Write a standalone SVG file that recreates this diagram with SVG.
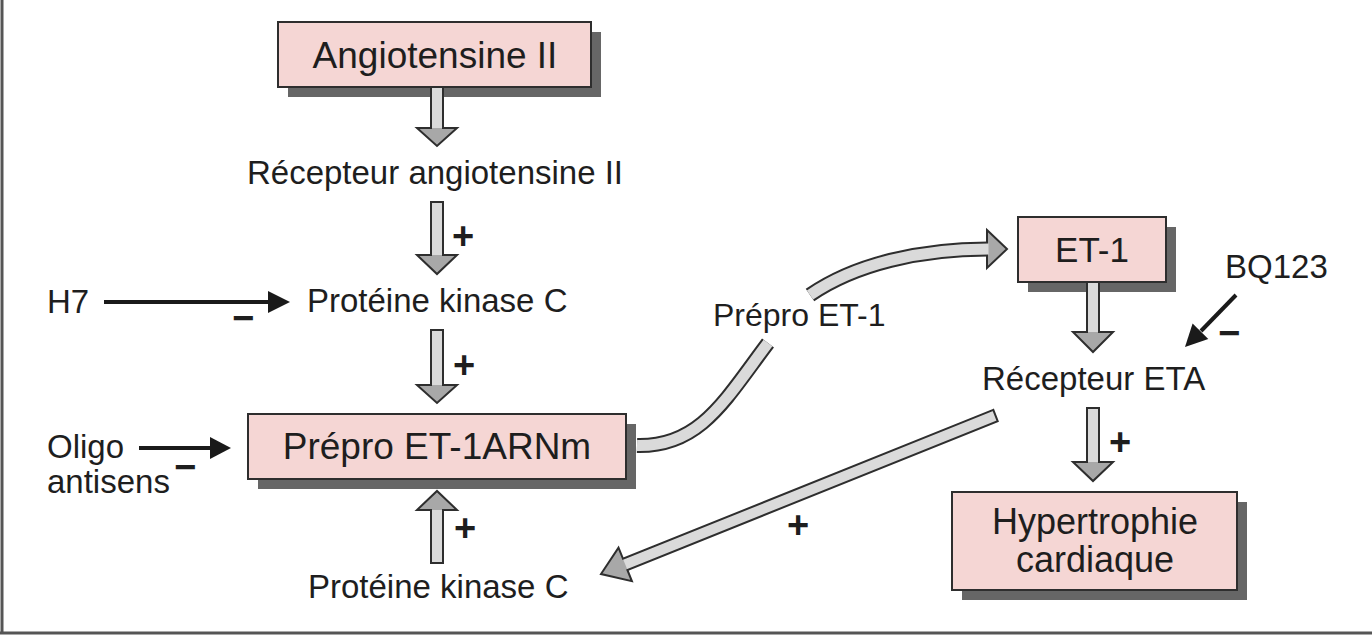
<svg xmlns="http://www.w3.org/2000/svg" width="1372" height="636" viewBox="0 0 1372 636">
<style>
text{font-family:"Liberation Sans",Arial,sans-serif;fill:#1e1e1e}
.t32{font-size:33px}
.t37{font-size:37px}
.c{text-anchor:middle}
.sign{font-size:38px;font-weight:bold;text-anchor:middle}
.box{fill:#f5d6d4;stroke:#2e2e2e;stroke-width:2}
.shadow{fill:#666666}
.afill{fill:#dadada;stroke:none}
.hfill{fill:#a8a8a8;stroke:none}
.aout{fill:none;stroke:#2e2e2e;stroke-width:2;stroke-linejoin:miter}
.black{stroke:#1a1a1a;stroke-width:4;fill:none}
.bhead{fill:#1a1a1a}
.tubeO{fill:none;stroke:#2e2e2e;stroke-width:15}
.tubeI{fill:none;stroke:#dadada;stroke-width:11}
</style>
<rect x="0" y="0" width="1372" height="636" fill="#ffffff"/>
<g id="frame">
<line x1="2" y1="0" x2="2" y2="634" stroke="#555" stroke-width="3"/>
<line x1="0" y1="633" x2="1372" y2="633" stroke="#555" stroke-width="3"/>
</g>
<g id="angiotensine">
<rect class="shadow" x="288" y="32" width="313" height="65"/>
<rect class="box" x="278" y="22" width="313" height="65"/>
<text class="t37 c" x="435" y="68">Angiotensine II</text>
</g>
<g id="recepteur-angio">
<text class="t32 c" x="435" y="184">Récepteur angiotensine II</text>
</g>
<g id="h7">
<text class="t32" x="47" y="313">H7</text>
</g>
<g id="pkc-top">
<text class="t32" x="307" y="312">Protéine kinase C</text>
</g>
<g id="prepro-arnm">
<rect class="shadow" x="258" y="424" width="378" height="65"/>
<rect class="box" x="248" y="414" width="378" height="65"/>
<text class="t37 c" x="437" y="459">Prépro ET-1ARNm</text>
</g>
<g id="oligo">
<text class="t32" x="47" y="458">Oligo</text>
<text class="t32" x="47" y="493">antisens</text>
</g>
<g id="pkc-bottom">
<text class="t32" x="308" y="598">Protéine kinase C</text>
</g>
<g id="prepro-et1">
<text style="font-size:32px" x="713" y="326">Prépro ET-1</text>
</g>
<g id="et1">
<rect class="shadow" x="1028" y="227" width="148" height="65"/>
<rect class="box" x="1018" y="217" width="148" height="65"/>
<text class="c" style="font-size:35px" x="1092" y="262">ET-1</text>
</g>
<g id="bq123">
<text class="t32" x="1225" y="278">BQ123</text>
</g>
<g id="recepteur-eta">
<text class="t32" x="982" y="390">Récepteur ETA</text>
</g>
<g id="hypertrophie">
<rect class="shadow" x="962" y="502" width="285" height="98"/>
<rect class="box" x="952" y="492" width="285" height="98"/>
<text class="c" style="font-size:36px" x="1095" y="534">Hypertrophie</text>
<text class="c" style="font-size:36px" x="1095" y="572">cardiaque</text>
</g>
<g id="connectors">
<polygon class="afill" points="431,87 443,87 443,128 457,128 437,146 417,128 431,128"/>
<polygon class="hfill" points="417,128 457,128 437,146"/>
<polygon class="aout" points="431,87 443,87 443,128 457,128 437,146 417,128 431,128"/>
<polygon class="afill" points="431,202 443,202 443,255 457,255 437,274 417,255 431,255"/>
<polygon class="hfill" points="417,255 457,255 437,274"/>
<polygon class="aout" points="431,202 443,202 443,255 457,255 437,274 417,255 431,255"/>
<polygon class="afill" points="431,330 443,330 443,385 457,385 437,403 417,385 431,385"/>
<polygon class="hfill" points="417,385 457,385 437,403"/>
<polygon class="aout" points="431,330 443,330 443,385 457,385 437,403 417,385 431,385"/>
<polygon class="afill" points="431,563 443,563 443,510 457,510 437,491 417,510 431,510"/>
<polygon class="hfill" points="417,510 457,510 437,491"/>
<polygon class="aout" points="431,563 443,563 443,510 457,510 437,491 417,510 431,510"/>
<polygon class="afill" points="1087,282 1099,282 1099,332 1113,332 1093,352 1073,332 1087,332"/>
<polygon class="hfill" points="1073,332 1113,332 1093,352"/>
<polygon class="aout" points="1087,282 1099,282 1099,332 1113,332 1093,352 1073,332 1087,332"/>
<polygon class="afill" points="1087,408 1099,408 1099,462 1113,462 1093,481 1073,462 1087,462"/>
<polygon class="hfill" points="1073,462 1113,462 1093,481"/>
<polygon class="aout" points="1087,408 1099,408 1099,462 1113,462 1093,481 1073,462 1087,462"/>
<polygon class="afill" points="993.3,409.9 623,558.8 618.5,547.7 601,574 631.9,581.1 627.4,570 997.7,421.1"/>
<polygon class="hfill" points="618.5,547.7 601,574 631.9,581.1"/>
<polygon class="aout" points="993.3,409.9 623,558.8 618.5,547.7 601,574 631.9,581.1 627.4,570 997.7,421.1"/>
<path class="tubeO" d="M637 445.5 C700 447 725 400 768 343"/>
<path class="tubeI" d="M637 445.5 C700 447 725 400 768 343"/>
<path class="tubeO" d="M810 295 C855 264 920 249 988 249"/>
<polygon fill="#a8a8a8" stroke="#2e2e2e" stroke-width="2" stroke-linejoin="miter" points="987,230 1007,249 987,268"/>
<path class="tubeI" d="M810 295 C855 264 920 249 988.5 249"/>
<line class="black" x1="104" y1="302" x2="270" y2="302"/>
<polygon class="bhead" points="268,291 290,302 268,313"/>
<line class="black" x1="139" y1="448" x2="212" y2="448"/>
<polygon class="bhead" points="210,437 231,448 210,459"/>
<line class="black" x1="1236" y1="295" x2="1201" y2="331"/>
<polygon class="bhead" points="1208.3,339 1185,347 1192.6,323.6"/>
<text class="sign" x="463" y="249">+</text>
<text class="sign" x="464" y="378">+</text>
<text class="sign" x="465" y="541">+</text>
<text class="sign" x="798" y="538">+</text>
<text class="sign" x="1120" y="455">+</text>
<text class="sign" x="243" y="331">−</text>
<text class="sign" x="185" y="480">−</text>
<text class="sign" x="1229" y="346">−</text>
</g>
</svg>
